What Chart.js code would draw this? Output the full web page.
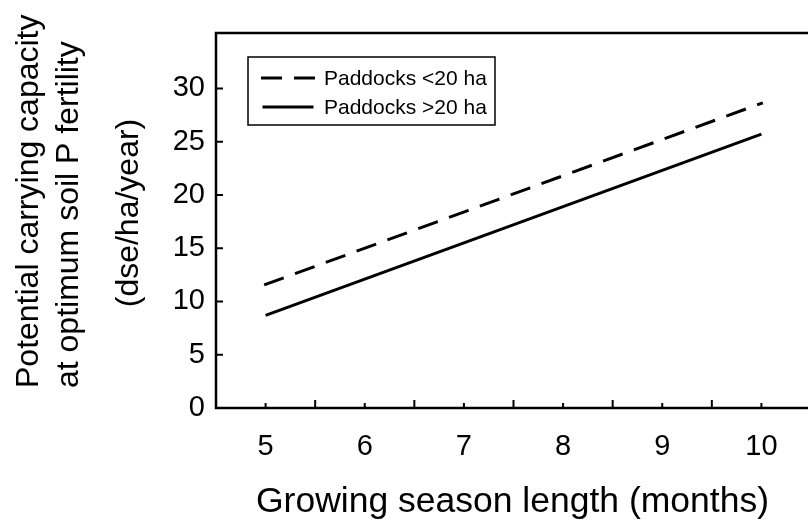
<!DOCTYPE html>
<html>
<head>
<meta charset="utf-8">
<script src="https://cdn.jsdelivr.net/npm/chart.js@4"></script>
<style>
    html, body { margin: 0; padding: 0; overflow: hidden; background: #fff; }
    canvas { display: block; }
</style>
</head>
<body>
<canvas id="carrying-chart" width="811" height="523"></canvas>
<script>
// Growing season length (months) at the ends of each fitted line
const seasonLength = [5, 10];
// Potential carrying capacity (dse/ha/year)
const smallPaddocks = [11.6, 28.6];
const largePaddocks = [8.7, 25.7];

const seriesLabels = ['Paddocks <20 ha', 'Paddocks >20 ha'];
const xTicks = [5, 6, 7, 8, 9, 10];
const yTicks = [0, 5, 10, 15, 20, 25, 30];

const FONT = "'Liberation Sans', Arial, sans-serif";

function toPoints(ys) {
    return seasonLength.map((x, i) => ({ x: x, y: ys[i] }));
}

// Axes frame, inward tick marks, boxed legend and axis titles
const framePlugin = {
    id: 'frame',
    afterDraw(chart) {
        const ctx = chart.ctx;
        const area = chart.chartArea;
        const xs = chart.scales.x;
        const ys = chart.scales.y;

        ctx.save();
        ctx.strokeStyle = '#000';
        ctx.lineCap = 'butt';

        // frame (right side runs off the page)
        ctx.lineWidth = 2.5;
        ctx.beginPath();
        ctx.moveTo(area.right + 5, area.top);
        ctx.lineTo(area.left, area.top);
        ctx.lineTo(area.left, area.bottom);
        ctx.lineTo(area.right + 5, area.bottom);
        ctx.stroke();

        // x ticks: short at labelled values, longer at the half months
        ctx.lineWidth = 2;
        ctx.beginPath();
        xTicks.forEach(v => {
            const px = xs.getPixelForValue(v);
            ctx.moveTo(px, area.bottom);
            ctx.lineTo(px, area.bottom - 5);
        });
        xTicks.slice(0, -1).forEach(v => {
            const px = xs.getPixelForValue(v + 0.5);
            ctx.moveTo(px, area.bottom);
            ctx.lineTo(px, area.bottom - 8);
        });
        // y ticks
        yTicks.filter(v => v > 0).forEach(v => {
            const py = ys.getPixelForValue(v);
            ctx.moveTo(area.left, py);
            ctx.lineTo(area.left + 7, py);
        });
        ctx.stroke();

        // legend box
        ctx.lineWidth = 1.5;
        ctx.strokeRect(248, 57, 247, 68);
        ctx.font = `21px ${FONT}`;
        ctx.fillStyle = '#000';
        ctx.textAlign = 'left';
        ctx.textBaseline = 'middle';
        chart.data.datasets.forEach((ds, i) => {
            const y = 78 + i * 29;
            ctx.save();
            ctx.lineWidth = ds.borderWidth;
            ctx.lineCap = ds.borderCapStyle;
            ctx.setLineDash(ds.borderDash ? [18, 15] : []);
            ctx.beginPath();
            ctx.moveTo(262.5, y);
            ctx.lineTo(313.5, y);
            ctx.stroke();
            ctx.restore();
            ctx.fillText(ds.label, 324, y + 1);
        });

        // x title
        ctx.font = `35.5px ${FONT}`;
        ctx.textAlign = 'center';
        ctx.textBaseline = 'alphabetic';
        ctx.fillText('Growing season length (months)', (area.left + area.right) / 2 - 1, 512);

        // y title (three rotated lines)
        ctx.font = `32px ${FONT}`;
        ctx.save();
        ctx.rotate(-Math.PI / 2);
        ctx.textAlign = 'left';
        ctx.fillText('Potential carrying capacity', -388, 38);
        ctx.fillText('at optimum soil P fertility', -388, 78);
        ctx.textAlign = 'center';
        ctx.fillText('(dse/ha/year)', -213, 138);
        ctx.restore();

        ctx.restore();
    }
};

new Chart(document.getElementById('carrying-chart'), {
    type: 'line',
    data: {
        datasets: [
            {
                label: seriesLabels[0],
                data: toPoints(smallPaddocks),
                borderColor: '#000',
                borderWidth: 3,
                borderDash: [17.8, 15],
                borderCapStyle: 'square',
                pointRadius: 0,
                fill: false
            },
            {
                label: seriesLabels[1],
                data: toPoints(largePaddocks),
                borderColor: '#000',
                borderWidth: 3,
                borderCapStyle: 'butt',
                pointRadius: 0,
                fill: false
            }
        ]
    },
    options: {
        responsive: false,
        animation: false,
        layout: { padding: { top: 33, left: 0, right: 0, bottom: 0 } },
        plugins: {
            legend: { display: false },
            tooltip: { enabled: false }
        },
        scales: {
            x: {
                type: 'linear',
                position: 'bottom',
                min: 4.5,
                max: 10.5,
                grid: { display: false, drawTicks: false },
                border: { display: false },
                afterBuildTicks: s => { s.ticks = xTicks.map(v => ({ value: v })); },
                afterFit: s => { s.height = 115; s.paddingLeft = 0; s.paddingRight = 0; },
                ticks: {
                    color: '#000',
                    font: { family: FONT, size: 29 },
                    padding: 22,
                    maxRotation: 0,
                    autoSkip: false
                }
            },
            y: {
                min: 0,
                max: 35.2,
                grid: { display: false, drawTicks: false },
                border: { display: false },
                afterBuildTicks: s => { s.ticks = yTicks.map(v => ({ value: v })); },
                afterFit: s => { s.width = 216; s.paddingTop = 0; s.paddingBottom = 0; },
                ticks: {
                    color: '#000',
                    font: { family: FONT, size: 29 },
                    padding: 11
                }
            }
        }
    },
    plugins: [framePlugin]
});
</script>
</body>
</html>
